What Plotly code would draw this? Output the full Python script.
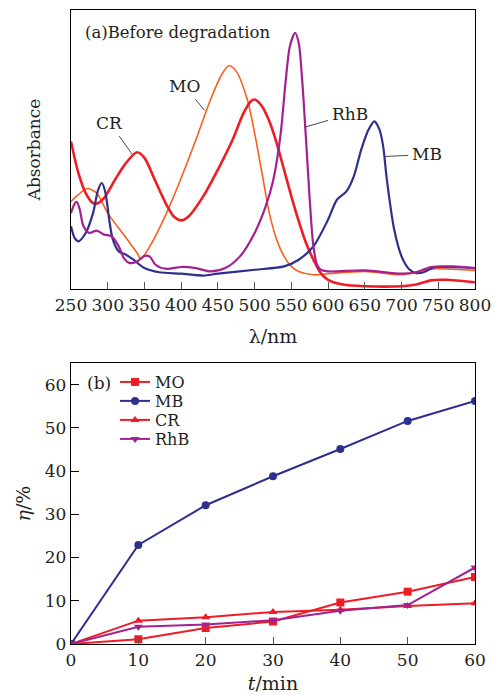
import plotly.graph_objects as go
from plotly.subplots import make_subplots

# ---------- (a) absorption spectra (arbitrary absorbance units) ----------
mo_nm = [250, 260, 272, 285, 300, 320, 340, 345, 360, 380, 400, 420, 440, 455, 465, 475,
         490, 500, 510, 520, 530, 540, 550, 560, 580, 600, 650, 700, 720, 740, 800]
mo_abs = [0.314, 0.338, 0.360, 0.344, 0.272, 0.201, 0.129, 0.108, 0.165, 0.272, 0.398, 0.535,
          0.679, 0.768, 0.800, 0.780, 0.679, 0.559, 0.416, 0.272, 0.177, 0.117, 0.081, 0.063,
          0.051, 0.055, 0.063, 0.051, 0.060, 0.072, 0.067]

cr_nm = [250, 260, 270, 280, 285, 295, 310, 325, 340, 350, 365, 380, 390, 400, 410, 430, 450,
         470, 485, 495, 500, 510, 520, 530, 540, 550, 560, 570, 580, 590, 600, 620, 650, 700,
         720, 740, 760, 800]
cr_abs = [0.529, 0.416, 0.344, 0.308, 0.306, 0.326, 0.392, 0.452, 0.490, 0.470, 0.386, 0.302,
          0.260, 0.246, 0.260, 0.332, 0.428, 0.535, 0.631, 0.673, 0.679, 0.655, 0.601, 0.523,
          0.428, 0.332, 0.243, 0.165, 0.105, 0.057, 0.033, 0.016, 0.010, 0.010, 0.016, 0.031,
          0.033, 0.024]

mb_nm = [250, 255, 260, 270, 280, 287, 292, 297, 302, 307, 315, 325, 335, 350, 370, 400, 430,
         450, 500, 540, 560, 580, 600, 612, 625, 635, 645, 655, 663, 670, 675, 680, 690, 700,
         710, 720, 730, 745, 770, 800]
mb_abs = [0.225, 0.183, 0.171, 0.201, 0.272, 0.356, 0.380, 0.344, 0.249, 0.177, 0.135, 0.123,
          0.105, 0.075, 0.060, 0.055, 0.048, 0.055, 0.069, 0.081, 0.105, 0.153, 0.249, 0.320,
          0.350, 0.404, 0.499, 0.571, 0.601, 0.571, 0.511, 0.392, 0.213, 0.117, 0.072, 0.057,
          0.060, 0.078, 0.078, 0.075]

rhb_nm = [250, 255, 258, 262, 267, 275, 285, 295, 305, 315, 322, 330, 340, 350, 357, 365, 380,
          400, 420, 440, 460, 480, 500, 515, 525, 535, 542, 548, 555, 560, 565, 570, 575, 580,
          585, 590, 600, 650, 700, 720, 740, 770, 800]
rhb_abs = [0.272, 0.306, 0.312, 0.284, 0.225, 0.201, 0.209, 0.195, 0.189, 0.153, 0.111, 0.093,
           0.099, 0.119, 0.117, 0.087, 0.072, 0.079, 0.075, 0.063, 0.075, 0.117, 0.201, 0.296,
           0.386, 0.547, 0.738, 0.870, 0.918, 0.882, 0.738, 0.535, 0.320, 0.153, 0.087, 0.069,
           0.063, 0.067, 0.055, 0.060, 0.079, 0.081, 0.075]

# ---------- (b) degradation rate ----------
t_min = [0, 10, 20, 30, 40, 50, 60]
eta_mo = [0, 1.1, 3.7, 5.2, 9.6, 12.1, 15.5]
eta_mb = [0, 22.9, 32.1, 38.8, 45.1, 51.6, 56.2]
eta_cr = [0, 5.4, 6.2, 7.4, 7.9, 8.8, 9.4]
eta_rhb = [0, 4.0, 4.5, 5.5, 7.7, 9.0, 17.7]

x_ticks_a = [250, 300, 350, 400, 450, 500, 550, 600, 650, 700, 750, 800]
x_ticks_b = [0, 10, 20, 30, 40, 50, 60]
y_ticks_b = [0, 10, 20, 30, 40, 50, 60]

C_MO = "#F8601E"
C_CR = "#EE1D25"
C_MB = "#2E2F8F"
C_RHB = "#A3228F"
FONT = "DejaVu Serif"
TXT = "#231F20"

fig = make_subplots(rows=2, cols=1, vertical_spacing=0.0)

for xs, ys, c, w in [(mo_nm, mo_abs, C_MO, 1.6), (cr_nm, cr_abs, C_CR, 2.6),
                     (mb_nm, mb_abs, C_MB, 2.2), (rhb_nm, rhb_abs, C_RHB, 2.2)]:
    fig.add_trace(go.Scatter(x=xs, y=ys, mode="lines", showlegend=False,
                             line=dict(color=c, width=w, shape="spline", smoothing=0.8)),
                  row=1, col=1)

series_b = [("MO", eta_mo, C_CR, "square", "legend"),
            ("MB", eta_mb, C_MB, "circle", "legend2"),
            ("CR", eta_cr, C_CR, "triangle-up", "legend3"),
            ("RhB", eta_rhb, C_RHB, "triangle-down", "legend4")]
for name, ys, c, sym, lg in series_b:
    fig.add_trace(go.Scatter(x=t_min, y=ys, mode="lines+markers", name=name, legend=lg,
                             line=dict(color=c, width=2),
                             marker=dict(color=c, size=8, symbol=sym)),
                  row=2, col=1)

axcommon = dict(showline=True, linecolor="black", linewidth=1.3, mirror=True,
                showgrid=False, zeroline=False, automargin=False,
                tickfont=dict(family=FONT, size=17, color=TXT))

fig.update_xaxes(range=[250, 800], tickvals=x_ticks_a, ticks="inside", ticklen=7,
                 tickcolor="#555", domain=[0, 1],
                 title=dict(text="λ/nm", font=dict(family=FONT, size=19, color=TXT), standoff=16),
                 **axcommon, row=1, col=1)
fig.update_yaxes(range=[0, 1.0], showticklabels=False, ticks="", domain=[0.5599, 1.0],
                 title=dict(text="Absorbance", font=dict(family=FONT, size=17, color=TXT), standoff=24),
                 **axcommon, row=1, col=1)
fig.update_xaxes(range=[0, 60], tickvals=x_ticks_b, ticks="inside", ticklen=7,
                 tickcolor="#555",
                 title=dict(text="<i>t</i>/min", font=dict(family=FONT, size=19, color=TXT), standoff=8),
                 **axcommon, row=2, col=1)
fig.update_yaxes(range=[0, 65], tickvals=y_ticks_b, ticks="inside", ticklen=8,
                 tickcolor="black", domain=[0, 0.4432],
                 title=dict(text="<i>η</i>/%", font=dict(family=FONT, size=19, color=TXT), standoff=9),
                 **axcommon, row=2, col=1)

ann_font = dict(family=FONT, size=17, color=TXT)
fig.add_annotation(text="(a)Before degradation", xref="x domain", yref="y domain",
                   x=0.03, y=0.921, xanchor="left", yanchor="middle", showarrow=False,
                   font=dict(family=FONT, size=16.5, color=TXT))
for label, xv, yv, ax, ay in [("CR", 333, 0.484, -22, -31), ("MO", 432, 0.64, -20, -24),
                              ("RhB", 568, 0.58, 45, -13), ("MB", 677, 0.475, 42, -2)]:
    fig.add_annotation(text=label, x=xv, y=yv, xref="x", yref="y", showarrow=True,
                       arrowhead=0, arrowwidth=0.9, arrowcolor="#333", ax=ax, ay=ay,
                       font=ann_font, startstandoff=2)
fig.add_annotation(text="(b)", xref="x2 domain", yref="y2 domain", x=0.069, y=0.929,
                   xanchor="center", yanchor="middle",
                   showarrow=False, font=dict(family=FONT, size=17, color=TXT))

leg_common = dict(x=0.109, xanchor="left", yanchor="middle", bgcolor="rgba(0,0,0,0)",
                  borderwidth=0, font=dict(family=FONT, size=16, color=TXT), itemwidth=30)
fig.update_layout(
    width=501, height=695,
    margin=dict(l=71, r=26, t=10, b=51),
    paper_bgcolor="white", plot_bgcolor="white",
    legend=dict(y=0.4132, **leg_common),
    legend2=dict(y=0.3833, **leg_common),
    legend3=dict(y=0.3533, **leg_common),
    legend4=dict(y=0.3233, **leg_common),
    showlegend=True,
)

fig.write_html("out.html", config={"displayModeBar": False},
               post_script="document.body.style.margin='0px';")
